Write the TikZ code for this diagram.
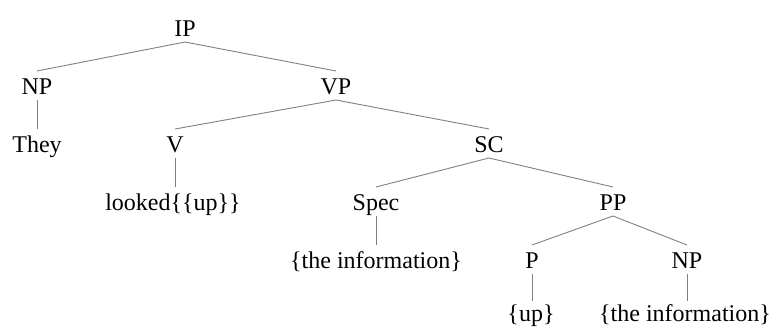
\documentclass[tikz,border=0pt]{standalone}
\usepackage{fontspec}
\setmainfont{Liberation Serif}
\begin{document}
\begin{tikzpicture}[x=1pt,y=-1pt,
  lab/.style={inner sep=0pt, anchor=base, font=\fontsize{24}{28}\selectfont},
  edge/.style={draw=black!50, line width=0.9pt}]
\useasboundingbox (0,0) rectangle (776,327);
\node[lab] (ip) at (185,36) {IP};
\node[lab] (np1) at (37,94) {NP};
\node[lab] (vp) at (336,94) {VP};
\node[lab] (they) at (37,152) {They};
\node[lab] (v) at (175,152) {V};
\node[lab] (sc) at (489,152) {SC};
\node[lab] (looked) at (173,210) {looked\{\{up\}\}};
\node[lab] (spec) at (376,210) {Spec};
\node[lab] (pp) at (613,210) {PP};
\node[lab] (info1) at (376,268) {\{the information\}};
\node[lab] (p) at (532,268) {P};
\node[lab] (np2) at (687,268) {NP};
\node[lab] (up) at (531,321) {\{up\}};
\node[lab] (info2) at (685,321) {\{the information\}};
\foreach \a/\b/\c in {ip/np1/np1, ip/vp/vp, np1/they/np1, vp/v/v, vp/sc/sc, v/looked/v, sc/spec/spec, sc/pp/pp, spec/info1/spec, pp/p/p, pp/np2/np2}
  \draw[edge] ([yshift=-6pt]\a.base) -- ([yshift=23pt]\b.base -| \c.base);
\foreach \a/\b in {p/up, np2/info2}
  \draw[edge] ([yshift=-6pt]\a.base) -- ([yshift=20pt]\b.base -| \a.base);
\end{tikzpicture}
\end{document}
